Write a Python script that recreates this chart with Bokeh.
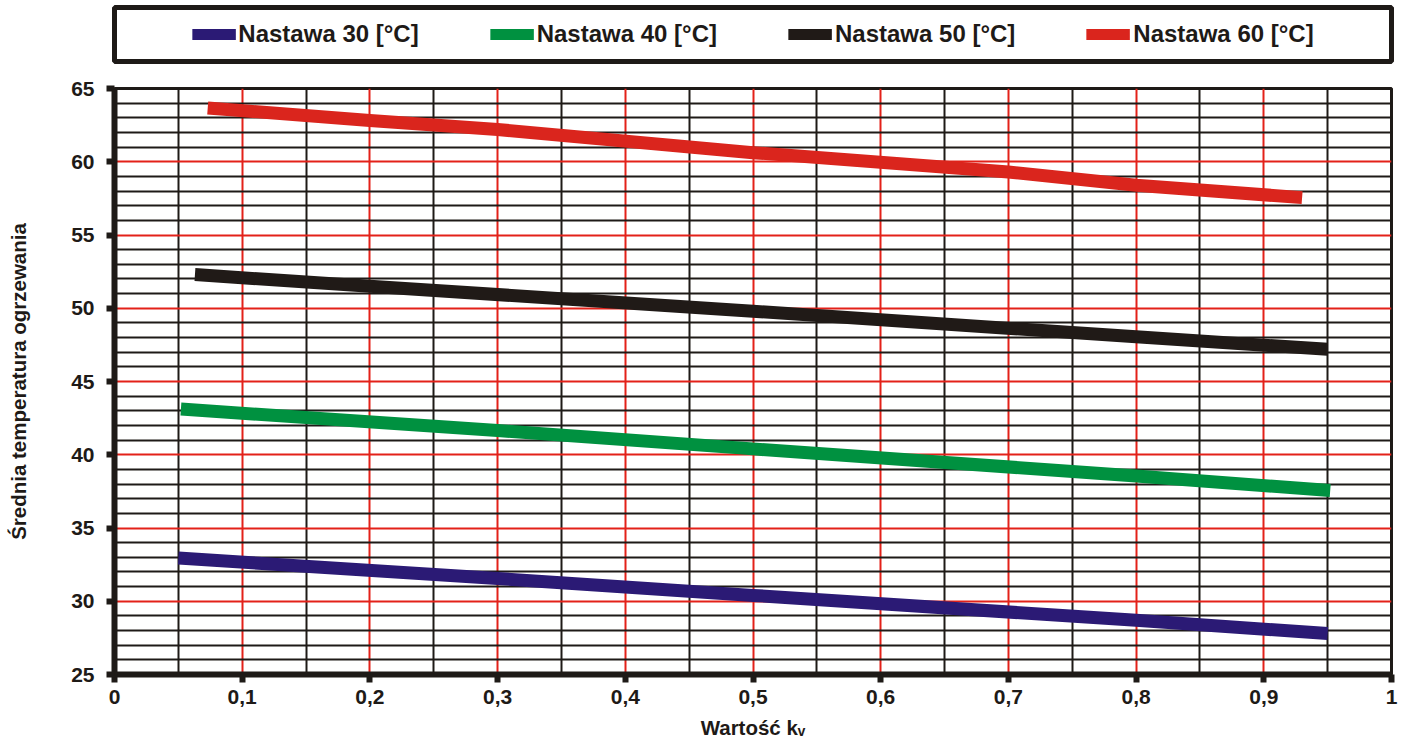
from bokeh.plotting import figure
from bokeh.models import FixedTicker, Legend, LegendItem, Range1d
from bokeh.layouts import column
from bokeh.embed import file_html
from bokeh.resources import INLINE

# ---------------- data ----------------
x_30 = [0.05, 0.3, 0.5, 0.8, 0.95]
y_30 = [32.95, 31.55, 30.4, 28.7, 27.8]

x_40 = [0.052, 0.3, 0.5, 0.8, 0.952]
y_40 = [43.12, 41.65, 40.4, 38.55, 37.56]

x_50 = [0.063, 0.2, 0.5, 0.8, 0.95]
y_50 = [52.3, 51.5, 49.8, 48.05, 47.2]

x_60 = [0.073, 0.2, 0.3, 0.5, 0.7, 0.8, 0.93]
y_60 = [63.67, 62.82, 62.2, 60.62, 59.3, 58.4, 57.55]

series_labels = ["Nastawa 30 [°C]", "Nastawa 40 [°C]", "Nastawa 50 [°C]", "Nastawa 60 [°C]"]
series_colors = ["#2B1A75", "#009140", "#201A17", "#DA251D"]

x_ticks = [0, 0.1, 0.2, 0.3, 0.4, 0.5, 0.6, 0.7, 0.8, 0.9, 1]
x_tick_labels = ["0", "0,1", "0,2", "0,3", "0,4", "0,5", "0,6", "0,7", "0,8", "0,9", "1"]
x_minor = [0.05, 0.15, 0.25, 0.35, 0.45, 0.55, 0.65, 0.75, 0.85, 0.95]

y_ticks = [25, 30, 35, 40, 45, 50, 55, 60, 65]
y_tick_labels = ["25", "30", "35", "40", "45", "50", "55", "60", "65"]
y_minor = [v for v in range(26, 65) if v % 5 != 0]

x_title = "Wartość kᵥ"
y_title = "Średnia temperatura ogrzewania"

FONT = "Liberation Sans"
INK = "#1E1A17"
GRID_RED = "#E32119"
W = 1405

# ---------------- main chart ----------------
p = figure(width=W, height=684, x_range=Range1d(0, 1), y_range=Range1d(25, 65),
           output_backend="svg", toolbar_location=None,
           min_border_left=114, min_border_right=W - 1391, min_border_top=24, min_border_bottom=74)

p.outline_line_color = INK
p.outline_line_width = 3
p.outline_line_alpha = 1

p.xaxis.ticker = FixedTicker(ticks=x_ticks, minor_ticks=x_minor)
p.yaxis.ticker = FixedTicker(ticks=y_ticks, minor_ticks=y_minor)
p.xaxis.major_label_overrides = {t: l for t, l in zip(x_ticks, x_tick_labels)}
p.yaxis.major_label_overrides = {t: l for t, l in zip(y_ticks, y_tick_labels)}

for ax in (p.xaxis[0], p.yaxis[0]):
    ax.axis_line_width = 6
    ax.axis_line_color = INK
    ax.major_tick_line_width = 6
    ax.major_tick_line_color = INK
    ax.major_tick_out = 8
    ax.major_tick_in = 0
    ax.minor_tick_out = 0
    ax.minor_tick_in = 0
    ax.major_label_text_font = FONT
    ax.major_label_text_font_style = "bold"
    ax.major_label_text_font_size = "21px"
    ax.major_label_text_color = INK
    ax.axis_label_text_font = FONT
    ax.axis_label_text_font_style = "bold"
    ax.axis_label_text_font_size = "20.5px"
    ax.axis_label_text_color = INK

p.xaxis.major_label_standoff = 7
p.xaxis.axis_label = x_title
p.xaxis.axis_label_standoff = 9
p.yaxis.major_label_standoff = 12
p.yaxis.axis_label = y_title
p.yaxis.axis_label_standoff = 38

p.xgrid.ticker = FixedTicker(ticks=x_ticks[1:-1], minor_ticks=x_minor)
p.ygrid.ticker = FixedTicker(ticks=y_ticks[1:-1], minor_ticks=y_minor)
for g in (p.xgrid[0], p.ygrid[0]):
    g.grid_line_color = GRID_RED
    g.grid_line_width = 2
    g.grid_line_alpha = 1
    g.minor_grid_line_color = INK
    g.minor_grid_line_width = 2
    g.minor_grid_line_alpha = 1

for xs, ys, c in zip([x_30, x_40, x_50, x_60], [y_30, y_40, y_50, y_60], series_colors):
    p.line(xs, ys, line_width=13, line_color=c, line_cap="butt", line_join="round")

# ---------------- legend strip ----------------
lf = figure(width=W, height=64, x_range=Range1d(0, 1), y_range=Range1d(0, 1),
            x_axis_type=None, y_axis_type=None, output_backend="svg", toolbar_location=None,
            min_border_left=114, min_border_right=W - 1394, min_border_top=7, min_border_bottom=3)
lf.outline_line_color = INK
lf.outline_line_width = 5
lf.outline_line_alpha = 1

items = []
for lab, c in zip(series_labels, series_colors):
    # key-only renderer, kept outside the visible range of the legend strip
    r = lf.line(x=[-2, -1], y=[-2, -2], line_width=11, line_color=c, line_cap="butt")
    items.append(LegendItem(label=lab, renderers=[r]))

legend = Legend(items=items, location="center", orientation="horizontal",
                border_line_alpha=0, background_fill_alpha=0, padding=0, margin=0,
                spacing=71, glyph_width=44, glyph_height=12, label_standoff=3,
                label_width=180, label_text_font=FONT, label_text_font_style="bold",
                label_text_font_size="24px", label_text_color=INK,
                label_text_baseline="middle")
lf.add_layout(legend)

layout = column(lf, p, spacing=0)
open("out.html", "w").write(file_html(layout, INLINE))
